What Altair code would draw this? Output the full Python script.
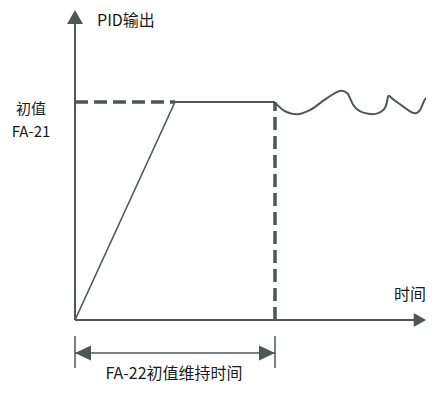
import altair as alt
import pandas as pd

COLOR = "#4d5757"
FONT = "Noto Sans CJK SC"

# Diagram coordinates: time axis (ramp ends at 1, hold ends at 2), output (initial value = 1)
x_domain = [-0.67, 3.51]
y_domain = [-0.298, 1.431]

# straight solid segments: axes, ramp, hold level
seg_x = [0, 0, 0, 1]
seg_y = [0, 0, 0, 1]
seg_x2 = [0, 3.45, 1, 2]
seg_y2 = [1.39, 0, 1, 1]
seg_w = [2, 2, 1.6, 2]

# dashed segments: initial value level and end of hold time
dash_x = [0, 2]
dash_y = [1, 0]
dash_x2 = [1, 2]
dash_y2 = [1, 1]

# dimension line for hold time
dim_x = [0, 0, 2]
dim_y = [-0.151, -0.073, -0.073]
dim_x2 = [2, 0, 2]
dim_y2 = [-0.151, -0.220, -0.220]

# PID output after the hold time
wave_t = [2.00, 2.083, 2.217, 2.35, 2.517, 2.667, 2.723, 2.783, 2.883, 2.983,
          3.083, 3.117, 3.133, 3.183, 3.283, 3.40, 3.45, 3.50, 3.533, 3.583]
wave_v = [0.997, 0.963, 0.944, 0.963, 1.017, 1.052, 1.040, 0.986, 0.951, 0.944,
          0.963, 0.994, 1.028, 1.012, 0.979, 0.948, 0.963, 1.012, 1.022, 0.997]

# arrowheads (tip positions)
arrow_x = [0, 3.51, 0, 2]
arrow_y = [1.422, 0, -0.151, -0.151]
arrow_shape = ["M0,0L-1,1.75L1,1.75Z", "M0,0L-1.75,-1L-1.75,1Z",
               "M0,0L2.13,-1L2.13,1Z", "M0,0L-2.13,-1L-2.13,1Z"]
arrow_size = [256, 196, 225, 225]

# labels
title_text = ["PID输出"]
title_x = [0.22]
title_y = [1.372]

lab_text = ["初值", "FA-21", "时间", "FA-22初值维持时间"]
lab_x = [-0.44, -0.44, 3.35, 0.99]
lab_y = [0.968, 0.862, 0.115, -0.248]
lab_size = [15, 15, 16, 16]

xs = alt.Scale(domain=x_domain, nice=False, zero=False)
ys = alt.Scale(domain=y_domain, nice=False, zero=False)

segs = pd.DataFrame({"x": seg_x, "y": seg_y, "x2": seg_x2, "y2": seg_y2, "w": seg_w})
dashes = pd.DataFrame({"x": dash_x, "y": dash_y, "x2": dash_x2, "y2": dash_y2})
dims = pd.DataFrame({"x": dim_x, "y": dim_y, "x2": dim_x2, "y2": dim_y2})
wave = pd.DataFrame({"t": wave_t, "v": wave_v, "i": range(len(wave_t))})
arrows = pd.DataFrame({"x": arrow_x, "y": arrow_y, "shape": arrow_shape, "size": arrow_size})
titles = pd.DataFrame({"text": title_text, "x": title_x, "y": title_y})
labels = pd.DataFrame({"text": lab_text, "x": lab_x, "y": lab_y, "size": lab_size})

X = lambda f: alt.X(f, scale=xs, axis=None)
Y = lambda f: alt.Y(f, scale=ys, axis=None)

seg_layer = alt.Chart(segs).mark_rule(color=COLOR).encode(
    x=X("x:Q"), y=Y("y:Q"), x2="x2:Q", y2="y2:Q",
    strokeWidth=alt.StrokeWidth("w:Q", scale=None, legend=None),
)

dash_layer = alt.Chart(dashes).mark_rule(color=COLOR, strokeWidth=3.5, strokeDash=[13, 6]).encode(
    x=X("x:Q"), y=Y("y:Q"), x2="x2:Q", y2="y2:Q",
)

dim_layer = alt.Chart(dims).mark_rule(color=COLOR, strokeWidth=1.5).encode(
    x=X("x:Q"), y=Y("y:Q"), x2="x2:Q", y2="y2:Q",
)

wave_layer = alt.Chart(wave).mark_line(color=COLOR, strokeWidth=2, interpolate="monotone", clip=True).encode(
    x=X("t:Q"), y=Y("v:Q"), order="i:Q",
)

arrow_layer = alt.Chart(arrows).mark_point(filled=True, color=COLOR, opacity=1, strokeWidth=0).encode(
    x=X("x:Q"), y=Y("y:Q"),
    shape=alt.Shape("shape:N", scale=None, legend=None),
    size=alt.Size("size:Q", scale=None, legend=None),
)

title_layer = alt.Chart(titles).mark_text(color="#1a1a1a", font=FONT, baseline="middle",
                                          align="left", fontSize=16).encode(
    x=X("x:Q"), y=Y("y:Q"), text="text:N",
)

label_layer = alt.Chart(labels).mark_text(color="#1a1a1a", font=FONT, baseline="middle",
                                          align="center").encode(
    x=X("x:Q"), y=Y("y:Q"), text="text:N",
    size=alt.Size("size:Q", scale=None, legend=None),
)

chart = alt.layer(
    seg_layer, dash_layer, dim_layer, wave_layer, arrow_layer, title_layer, label_layer
).properties(
    width=418, height=377, padding=0,
    autosize=alt.AutoSizeParams(type="none"),
).configure_view(stroke=None)

chart.save("out.html", embed_options={"renderer": "svg", "actions": False})
